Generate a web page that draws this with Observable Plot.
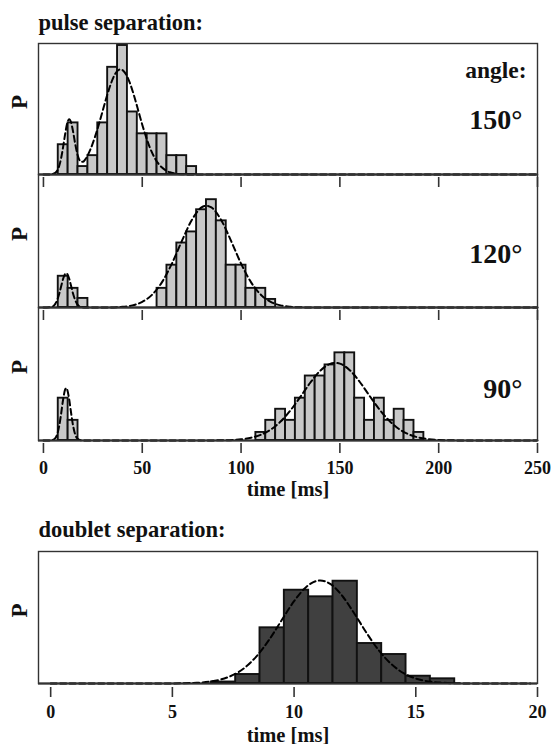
<!DOCTYPE html>
<html><head><meta charset="utf-8">
<script src="https://cdn.jsdelivr.net/npm/d3@7"></script>
<script src="https://cdn.jsdelivr.net/npm/@observablehq/plot@0.6"></script>
<style>
html,body{margin:0;padding:0;background:#fff;}
#chart{position:relative;width:553px;height:744px;overflow:hidden;background:#fff;}
#chart svg{position:absolute;left:0;top:0;}
</style></head><body><div id="chart"></div>
<script>
// ---------- data ----------
const titles = ["pulse separation:", "doublet separation:"];
const angleTitle = "angle:";
const angles = ["150°", "120°", "90°"];
const yLabel = "P";
const xLabel = "time [ms]";
const pulseTicks = [0, 50, 100, 150, 200, 250];
const doubletTicks = [0, 5, 10, 15, 20];
const pulseBinWidth = 5;
const doubletBinWidth = 1;

// histogram bins (centers, ms) and heights (P, arbitrary units)
const bins150 = [10, 15, 20, 25, 30, 35, 40, 45, 50, 55, 60, 65, 70, 75];
const p150    = [30, 52, 8, 19, 52, 108, 130, 63, 41, 41, 41, 19, 19, 8];
const bins120 = [10, 15, 20, 60, 65, 70, 75, 80, 85, 90, 95, 100, 105, 110, 115];
const p120    = [31, 19, 9, 19, 42, 64, 75, 97, 107, 86, 42, 42, 19, 19, 8];
const bins90  = [10, 15, 110, 115, 120, 125, 130, 135, 140, 145, 150, 155, 160, 165, 170, 175, 180, 185, 190];
const p90     = [42, 20, 8, 20, 31, 20, 42, 64, 64, 75, 87, 87, 42, 20, 42, 20, 31, 20, 8];
const binsDoublet = [7.1, 8.1, 9.1, 10.1, 11.1, 12.1, 13.1, 14.1, 15.1, 16.1];
const pDoublet    = [1.5, 9, 55.7, 93.3, 86.7, 102.3, 40, 29, 7.3, 4.7];

// dashed fit curves
const curveT150 = [0,4,6,8,9,10,11,12,13,14,15,16,17,18,19,20,21,22,24,26,28,30,32,34,36,38,39,40,42,44,46,48,50,52,54,56,58,60,62,64,66,68,72,80,250];
const curveP150 = [0,0.2,1.6,8.8,16.9,28.3,41.0,51.4,55.6,52.4,43.2,31.7,21.8,15.5,12.8,12.8,14.8,17.9,26.4,37.4,50.2,64.3,78.3,90.8,100.3,105.3,106,105.3,100.3,90.8,78.3,64.3,50.2,37.4,26.4,17.8,11.4,7.0,4.0,2.2,1.2,0.6,0.1,0,0];
const curveT120 = [0,4,6,8,9,10,11,11.5,12,13,14,15,17,19,21,30,40,45,50,55,60,65,70,75,80,82.5,85,90,95,100,105,110,115,120,125,130,140,250];
const curveP120 = [0,0.5,3.6,13.7,21.4,28.8,33.4,34,33.4,28.8,21.4,13.7,3.6,0.5,0,0,0.7,2.1,5.6,12.7,25.2,43.6,65.8,86.6,99.3,101,99.3,86.6,65.8,43.6,25.2,12.7,5.6,2.1,0.7,0.2,0,0];
const curveT90 = [0,4,6,7,8,9,10,11,11.5,12,13,14,15,16,17,19,21,80,90,100,105,110,115,120,125,130,135,140,145,147.7,150,155,160,165,170,175,180,185,190,195,200,210,250];
const curveP90 = [0,0.2,2.3,6.4,14.7,27.3,41.2,50.7,52,50.7,41.2,27.3,14.7,6.4,2.3,0.2,0,0,0.2,1.2,2.7,5.7,10.8,18.8,29.9,43.3,57.3,69.1,76.0,77,76.3,69.8,58.3,44.4,30.9,19.6,11.3,6.0,2.9,1.3,0.5,0.1,0];
const curveTDoublet = [0,5,6,7,8,8.5,9,9.5,10,10.5,11.07,11.5,12,12.5,13,13.5,14,14.5,15,16,17,19.7];
const curvePDoublet = [0,0.1,0.7,4.1,16.3,28.4,44.6,63.7,82.3,96.6,103,99.4,87.0,69.0,49.8,32.5,19.3,10.3,5.0,0.9,0.1,0];

// ---------- drawing ----------
const W = 553, H = 744;
const chart = document.getElementById("chart");
const FONT = "'Liberation Serif', 'Times New Roman', serif";

function panel(o) {
  const bars = o.bins.map((b, i) => ({x1: b - o.binWidth / 2, x2: b + o.binWidth / 2, p: o.p[i]}));
  const curve = o.curveT.map((t, i) => ({t, p: o.curveP[i]}));
  const marks = [
    Plot.rect(bars, {x1: "x1", x2: "x2", y1: 0, y2: "p", fill: o.fill, stroke: "#111", strokeWidth: 1.9}),
    Plot.line(curve, {x: "t", y: "p", stroke: "#000", strokeWidth: 2, strokeDasharray: "6,3.5", curve: "monotone-x"}),
    Plot.ruleY([0], {stroke: "#111", strokeWidth: 1.8}),
    Plot.frame({stroke: "#333", strokeWidth: 1.4}),
    Plot.axisX(o.ticks, {anchor: "bottom", tickSize: o.tickSize, dy: o.tickGap, tickPadding: o.tickPadding,
      lineAnchor: "bottom", tickFormat: o.showLabels ? (d => String(d)) : (() => ""), label: null,
      stroke: "#333", strokeWidth: 1.6, fontSize: 18}),
    Plot.text([yLabel], {frameAnchor: "left", dx: -19, rotate: -90, fontSize: 23, lineAnchor: "middle"}),
    ...(o.extra || [])
  ];
  const svg = Plot.plot({
    width: W, height: H,
    marginTop: o.top, marginBottom: H - o.bottom, marginLeft: 38, marginRight: 16,
    x: {domain: o.xDomain},
    y: {domain: [0, 132], axis: null},
    style: `background: transparent; overflow: visible; font-family: ${FONT}; font-weight: bold; font-size: 18px; color: #111;`,
    marks
  });
  svg.style.position = "absolute";
  svg.style.left = "0px";
  svg.style.top = "0px";
  chart.appendChild(svg);
}

const angleLabel = (txt, dy) => Plot.text([txt], {frameAnchor: "top-right", dx: -15, dy, textAnchor: "end", lineAnchor: "bottom", fontSize: 28});

panel({top: 43, bottom: 174, xDomain: [-2.5, 250], bins: bins150, p: p150, binWidth: pulseBinWidth,
  curveT: curveT150, curveP: curveP150, fill: "#c8c8c8", ticks: pulseTicks, showLabels: false,
  tickSize: 10, tickGap: 3, tickPadding: 20,
  extra: [
    Plot.text([titles[0]], {frameAnchor: "top-left", dy: -14, textAnchor: "start", lineAnchor: "bottom", fontSize: 22.5}),
    Plot.text([angleTitle], {frameAnchor: "top-right", dx: -11, dy: 34, textAnchor: "end", lineAnchor: "bottom", fontSize: 23.5})
    , angleLabel(angles[0], 85)
  ]});
panel({top: 174, bottom: 307, xDomain: [-2.5, 250], bins: bins120, p: p120, binWidth: pulseBinWidth,
  curveT: curveT120, curveP: curveP120, fill: "#c8c8c8", ticks: pulseTicks, showLabels: false,
  tickSize: 10, tickGap: 3, tickPadding: 20,
  extra: [angleLabel(angles[1], 88)]});
panel({top: 307, bottom: 440, xDomain: [-2.5, 250], bins: bins90, p: p90, binWidth: pulseBinWidth,
  curveT: curveT90, curveP: curveP90, fill: "#c8c8c8", ticks: pulseTicks, showLabels: true,
  tickSize: 10, tickGap: 3, tickPadding: 20,
  extra: [
    angleLabel(angles[2], 90),
    Plot.text([xLabel], {frameAnchor: "bottom", dy: 55, lineAnchor: "bottom", fontSize: 20.5})
  ]});
panel({top: 551, bottom: 683, xDomain: [-0.5, 20], bins: binsDoublet, p: pDoublet, binWidth: doubletBinWidth,
  curveT: curveTDoublet, curveP: curvePDoublet, fill: "#404040", ticks: doubletTicks, showLabels: true,
  tickSize: 10, tickGap: 4, tickPadding: 20,
  extra: [
    Plot.text([titles[1]], {frameAnchor: "top-left", dy: -15, textAnchor: "start", lineAnchor: "bottom", fontSize: 22.5}),
    Plot.text([xLabel], {frameAnchor: "bottom", dy: 58, lineAnchor: "bottom", fontSize: 20.5})
  ]});
</script></body></html>
